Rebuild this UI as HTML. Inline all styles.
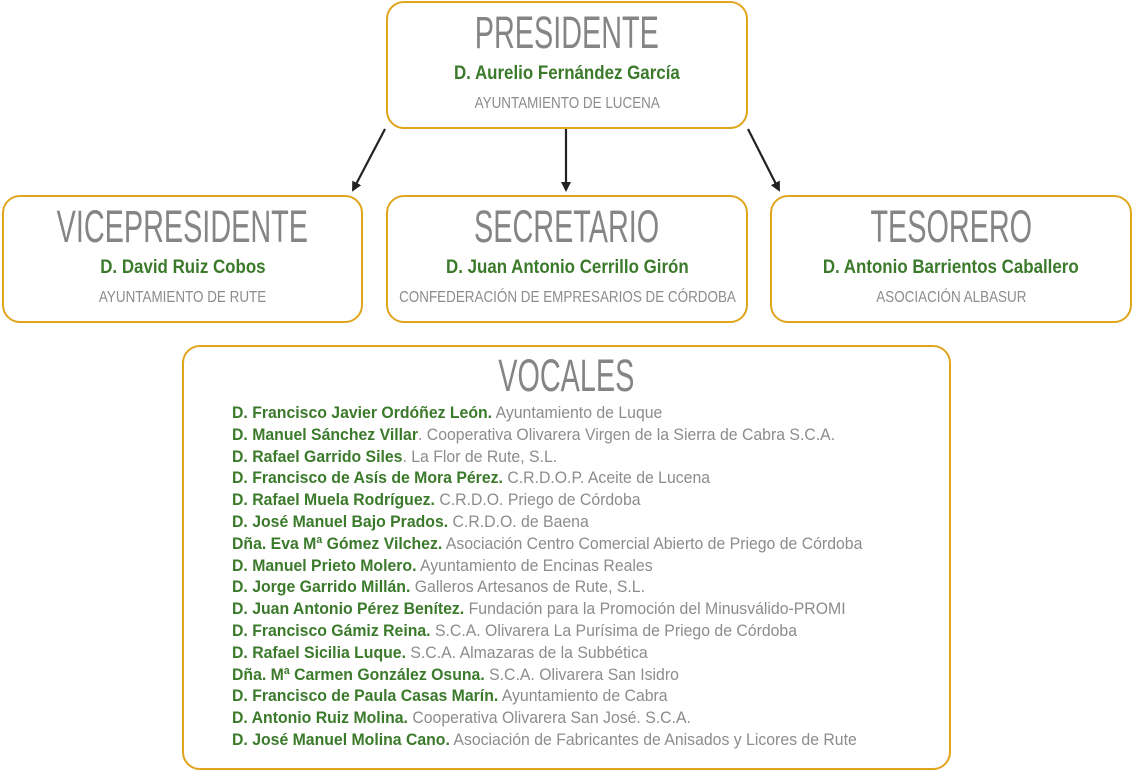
<!DOCTYPE html>
<html><head><meta charset="utf-8"><style>
body{margin:0;width:1133px;height:771px;background:#fff;position:relative;overflow:hidden;font-family:"Liberation Sans",sans-serif}
.box{position:absolute;border:2.5px solid #e0a51c;border-radius:18px;box-sizing:border-box;background:#fff}
.l{position:absolute;left:-150px;right:-150px;text-align:center;white-space:nowrap}
.s{display:inline-block;transform-origin:center}
.t{font-size:45px;color:#858585;top:4px;line-height:52px}
.t .s{transform:scaleX(.64)}
.n{font-size:19px;font-weight:bold;color:#3b7a2b;top:59px;line-height:23px}
.n .s{transform:scaleX(.89)}
.o{font-size:16px;color:#8c8c8c;top:91px;line-height:20px}
.o .s{transform:scaleX(.84)}
.v{position:absolute;left:48px;top:55px;font-size:17px;line-height:21.8px;white-space:nowrap;transform:scaleX(.93);transform-origin:left top}
.v b{color:#3b7a2b}.v span{color:#8c8c8c}
</style></head><body>
<svg width="1133" height="771" style="position:absolute;left:0;top:0">
<defs><marker id="a" markerWidth="10" markerHeight="10" refX="8" refY="5" orient="auto" markerUnits="userSpaceOnUse"><path d="M0,0 L10,5 L0,10 Z" fill="#222"/></marker></defs>
<g stroke="#222" stroke-width="2.2">
<line x1="385" y1="129" x2="353" y2="190" marker-end="url(#a)"/>
<line x1="566" y1="129" x2="566" y2="190" marker-end="url(#a)"/>
<line x1="748" y1="129" x2="779" y2="190" marker-end="url(#a)"/>
</g></svg>
<div class="box" style="left:386px;top:1px;width:362px;height:128px">
<div class="l t"><span class="s">PRESIDENTE</span></div>
<div class="l n"><span class="s">D. Aurelio Fernández García</span></div>
<div class="l o"><span class="s">AYUNTAMIENTO DE LUCENA</span></div></div>
<div class="box" style="left:2px;top:195px;width:361px;height:128px">
<div class="l t"><span class="s">VICEPRESIDENTE</span></div>
<div class="l n"><span class="s">D. David Ruiz Cobos</span></div>
<div class="l o"><span class="s">AYUNTAMIENTO DE RUTE</span></div></div>
<div class="box" style="left:386px;top:195px;width:362px;height:128px">
<div class="l t"><span class="s">SECRETARIO</span></div>
<div class="l n"><span class="s">D. Juan Antonio Cerrillo Girón</span></div>
<div class="l o"><span class="s">CONFEDERACIÓN DE EMPRESARIOS DE CÓRDOBA</span></div></div>
<div class="box" style="left:770px;top:195px;width:362px;height:128px">
<div class="l t"><span class="s">TESORERO</span></div>
<div class="l n"><span class="s">D. Antonio Barrientos Caballero</span></div>
<div class="l o"><span class="s">ASOCIACIÓN ALBASUR</span></div></div>
<div class="box" style="left:182px;top:345px;width:769px;height:425px">
<div class="l t" style="top:3px"><span class="s">VOCALES</span></div>
<div class="v">
<b>D. Francisco Javier Ordóñez León.</b> <span>Ayuntamiento de Luque</span><br>
<b>D. Manuel Sánchez Villar</b><span>. Cooperativa Olivarera Virgen de la Sierra de Cabra S.C.A.</span><br>
<b>D. Rafael Garrido Siles</b><span>. La Flor de Rute, S.L.</span><br>
<b>D. Francisco de Asís de Mora Pérez.</b> <span>C.R.D.O.P. Aceite de Lucena</span><br>
<b>D. Rafael Muela Rodríguez.</b> <span>C.R.D.O. Priego de Córdoba</span><br>
<b>D. José Manuel Bajo Prados.</b> <span>C.R.D.O. de Baena</span><br>
<b>Dña. Eva Mª Gómez Vilchez.</b> <span>Asociación Centro Comercial Abierto de Priego de Córdoba</span><br>
<b>D. Manuel Prieto Molero.</b> <span>Ayuntamiento de Encinas Reales</span><br>
<b>D. Jorge Garrido Millán.</b> <span>Galleros Artesanos de Rute, S.L.</span><br>
<b>D. Juan Antonio Pérez Benítez.</b> <span>Fundación para la Promoción del Minusválido-PROMI</span><br>
<b>D. Francisco Gámiz Reina.</b> <span>S.C.A. Olivarera La Purísima de Priego de Córdoba</span><br>
<b>D. Rafael Sicilia Luque.</b> <span>S.C.A. Almazaras de la Subbética</span><br>
<b>Dña. Mª Carmen González Osuna.</b> <span>S.C.A. Olivarera San Isidro</span><br>
<b>D. Francisco de Paula Casas Marín.</b> <span>Ayuntamiento de Cabra</span><br>
<b>D. Antonio Ruiz Molina.</b> <span>Cooperativa Olivarera San José. S.C.A.</span><br>
<b>D. José Manuel Molina Cano.</b> <span>Asociación de Fabricantes de Anisados y Licores de Rute</span>
</div></div>
</body></html>
